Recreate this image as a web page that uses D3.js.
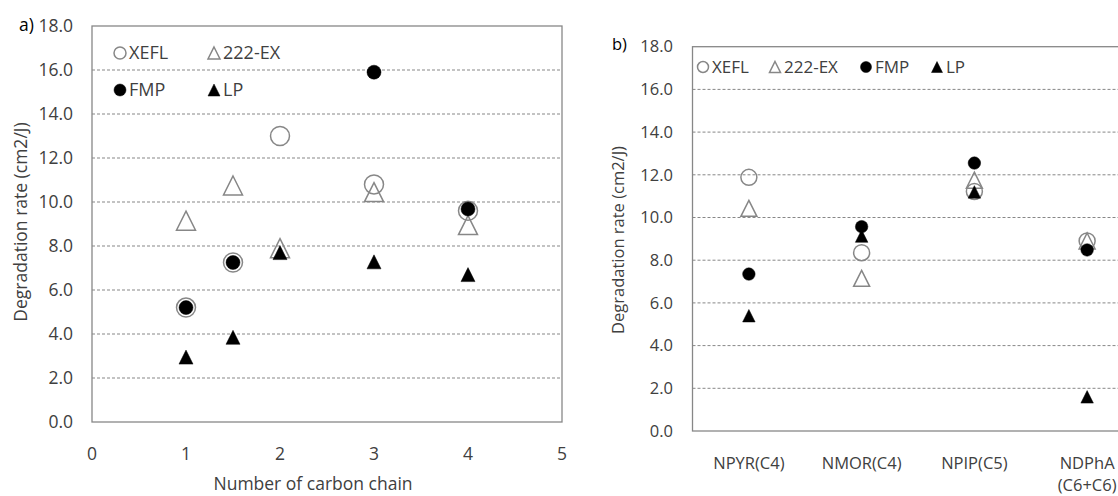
<!DOCTYPE html>
<html>
<head>
<meta charset="utf-8">
<script src="https://cdn.jsdelivr.net/npm/d3@7"></script>
<style>
  body { margin: 0; background: #fff; }
  svg { display: block; font-family: "Open Sans", sans-serif; }
</style>
</head>
<body>
<svg id="chart" width="1118" height="496"></svg>
<script>
// panel a) x = number of carbon chain
const chainX = [1, 1.5, 2, 3, 4];
const aXEFL = [5.2, 7.25, 13.0, 10.8, 9.6];
const a222EX = [9.15, 10.75, 7.9, 10.45, 8.95];
const aFMP = [5.2, 7.25, null, 15.9, 9.68];
const aLP = [2.95, 3.85, 7.7, 7.28, 6.7];

// panel b) per compound
const compounds = ['NPYR(C4)', 'NMOR(C4)', 'NPIP(C5)', 'NDPhA\n(C6+C6)'];
const bXEFL = [11.88, 8.35, 11.22, 8.9];
const b222EX = [10.43, 7.15, 11.75, 8.9];
const bFMP = [7.35, 9.57, 12.55, 8.48];
const bLP = [5.4, 9.13, 11.2, 1.6];

const seriesNames = ['XEFL', '222-EX', 'FMP', 'LP'];
const yTicks = [0, 2, 4, 6, 8, 10, 12, 14, 16, 18];
const xTicksA = [0, 1, 2, 3, 4, 5];

const txt = '#404040';
const gray = '#878787';

const svg = d3.select('#chart');

// marker: shape 'circle' | 'triangle', open or filled
const styles = [
  { shape: 'circle', open: true },
  { shape: 'triangle', open: true },
  { shape: 'circle', open: false },
  { shape: 'triangle', open: false },
];

function markerPath(shape, s) {
  if (shape === 'circle') {
    const r = s / 2;
    return d3.arc()({ innerRadius: 0, outerRadius: r, startAngle: 0, endAngle: 2 * Math.PI });
  }
  const p = d3.path();
  p.moveTo(0, -s / 2);
  p.lineTo(s / 2, s / 2);
  p.lineTo(-s / 2, s / 2);
  p.closePath();
  return p.toString();
}

function drawMarker(g, st, x, y, openSize, fillSize) {
  g.append('path')
    .attr('d', markerPath(st.shape, st.open ? openSize : fillSize))
    .attr('transform', `translate(${x},${y})`)
    .attr('fill', st.open ? 'none' : '#000')
    .attr('stroke', st.open ? gray : '#000')
    .attr('stroke-width', st.open ? 1.5 : 0.5);
}

function drawPanel(opt) {
  const g = svg.append('g');
  const { x0, x1, y, fs } = opt;

  // gridlines
  g.selectAll('.grid')
    .data(yTicks.filter(d => d > 0 && d < 18))
    .enter()
    .append('line')
      .attr('x1', x0).attr('x2', x1)
      .attr('y1', d => y(d)).attr('y2', d => y(d))
      .attr('stroke', gray)
      .attr('stroke-width', 1)
      .attr('stroke-dasharray', '3,2');

  // plot area border
  g.append('rect')
    .attr('x', x0).attr('y', y(18))
    .attr('width', x1 - x0).attr('height', y(0) - y(18))
    .attr('fill', 'none')
    .attr('stroke', gray)
    .attr('stroke-width', 1.3);

  // y tick labels
  g.selectAll('.ytl')
    .data(yTicks)
    .enter()
    .append('text')
      .attr('x', opt.yLabelX)
      .attr('y', d => y(d))
      .attr('dy', '0.35em')
      .attr('text-anchor', 'end')
      .attr('fill', txt)
      .attr('font-size', fs.tick)
      .text(d3.format('.1f'));

  // y title
  g.append('text')
    .attr('transform', `translate(${opt.yTitle[0]},${opt.yTitle[1]}) rotate(-90)`)
    .attr('dy', '0.35em')
    .attr('text-anchor', 'middle')
    .attr('fill', txt)
    .attr('font-size', fs.title)
    .text('Degradation rate (cm2/J)');

  // panel letter
  g.append('text')
    .attr('x', opt.letter[0]).attr('y', opt.letter[1])
    .attr('dy', '0.35em')
    .attr('fill', '#000')
    .attr('font-size', fs.tick)
    .text(opt.letterText);

  return g;
}

// ---------- panel a ----------
const yA = d3.scaleLinear().domain([0, 18]).range([422, 26]);
const xA = d3.scaleLinear().domain([0, 5]).range([92, 562]);

const gA = drawPanel({
  x0: xA(0), x1: xA(5), y: yA,
  fs: { tick: 17.5, title: 17.5 },
  yLabelX: 73,
  yTitle: [21, 222],
  letter: [19, 25],
  letterText: 'a)',
});

gA.selectAll('.xtl')
  .data(xTicksA)
  .enter()
  .append('text')
    .attr('x', d => xA(d))
    .attr('y', 454)
    .attr('dy', '0.35em')
    .attr('text-anchor', 'middle')
    .attr('fill', txt)
    .attr('font-size', 17.5)
    .text(d => d);

gA.append('text')
  .attr('x', 313).attr('y', 484)
  .attr('dy', '0.35em')
  .attr('text-anchor', 'middle')
  .attr('fill', txt)
  .attr('font-size', 17.5)
  .text('Number of carbon chain');

[aXEFL, a222EX, aFMP, aLP].forEach((vals, si) => {
  vals.forEach((v, i) => {
    if (v == null) return;
    drawMarker(gA, styles[si], xA(chainX[i]), yA(v), 19, 14);
  });
});

// legend a (two rows)
const legA = [[120, 53], [214, 53], [120, 90], [214, 90]];
seriesNames.forEach((name, i) => {
  drawMarker(gA, styles[i], legA[i][0], legA[i][1], 12, 12);
  gA.append('text')
    .attr('x', legA[i][0] + 9).attr('y', legA[i][1])
    .attr('dy', '0.35em')
    .attr('fill', txt)
    .attr('font-size', 18)
    .text(name);
});

// ---------- panel b ----------
const yB = d3.scaleLinear().domain([0, 18]).range([431, 46.7]);
const xB = d3.scaleBand().domain(compounds).range([692.5, 1143.5]);

const gB = drawPanel({
  x0: 692.5, x1: 1143.5, y: yB,
  fs: { tick: 16.5, title: 16.5 },
  yLabelX: 673,
  yTitle: [618, 240],
  letter: [612, 44],
  letterText: 'b)',
});

compounds.forEach(c => {
  const lines = c.split('\n');
  const t = gB.append('text')
    .attr('text-anchor', 'middle')
    .attr('fill', txt)
    .attr('font-size', 16.5);
  lines.forEach((ln, k) => {
    t.append('tspan')
      .attr('x', xB(c) + xB.bandwidth() / 2)
      .attr('y', 463 + k * 22)
      .attr('dy', '0.35em')
      .text(ln);
  });
});

[bXEFL, b222EX, bFMP, bLP].forEach((vals, si) => {
  vals.forEach((v, i) => {
    drawMarker(gB, styles[si], xB(compounds[i]) + xB.bandwidth() / 2, yB(v), 16, 12.5);
  });
});

// legend b (one row)
const legB = [[703, 67], [775, 67], [866, 67], [937, 67]];
seriesNames.forEach((name, i) => {
  drawMarker(gB, styles[i], legB[i][0], legB[i][1], 11, 11);
  gB.append('text')
    .attr('x', legB[i][0] + 9).attr('y', legB[i][1])
    .attr('dy', '0.35em')
    .attr('fill', txt)
    .attr('font-size', 17)
    .text(name);
});
</script>
</body>
</html>
